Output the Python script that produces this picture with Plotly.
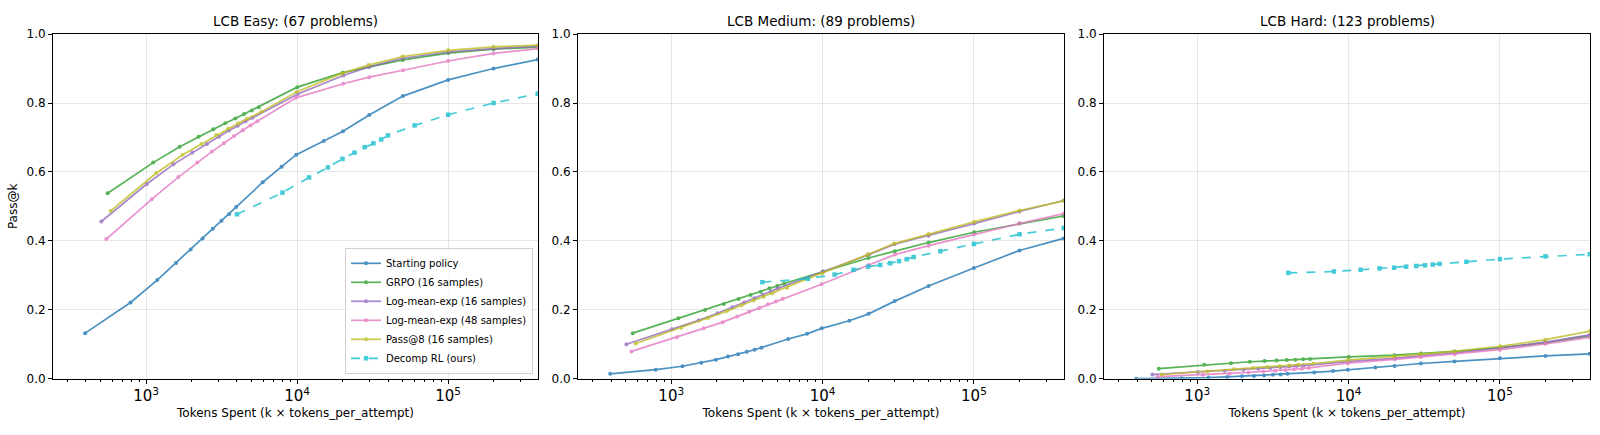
import plotly.graph_objects as go

# ---------------- data ----------------
methods = ["Starting policy", "GRPO (16 samples)", "Log-mean-exp (16 samples)",
           "Log-mean-exp (48 samples)", "Pass@8 (16 samples)", "Decomp RL (ours)"]
colors = ["#1f77b4", "#2ca02c", "#9467bd", "#e377c2", "#bcbd22", "#17becf"]
tokens_per_attempt = [395, 557, 506, 546, 583, 4000]

panel_titles = ["LCB Easy: (67 problems)", "LCB Medium: (89 problems)", "LCB Hard: (123 problems)"]

k_start = [1, 2, 3, 4, 5, 6, 7, 8, 9, 10, 15, 20, 25, 38, 51, 76, 127, 253, 506, 990]
k_grpo = [1, 2, 3, 4, 5, 6, 7, 8, 9, 10, 18, 36, 54, 90, 180, 359, 700]
k_lme16 = [1, 2, 3, 4, 5, 6, 7, 8, 9, 10, 20, 40, 59, 99, 198, 395, 775]
k_lme48 = [1, 2, 3, 4, 5, 6, 7, 8, 9, 10, 18, 37, 55, 92, 183, 366, 720]
k_pass8 = [1, 2, 3, 4, 5, 6, 7, 8, 10, 17, 34, 51, 86, 172, 343, 675]
k_decomp = [1, 2, 3, 4, 5, 6, 7, 8, 9, 10, 15, 25, 50, 98]

# Easy
easy_start = [0.132, 0.221, 0.286, 0.336, 0.375, 0.407, 0.435, 0.458, 0.478, 0.498,
              0.570, 0.615, 0.650, 0.690, 0.718, 0.765, 0.820, 0.867, 0.900, 0.926]
easy_grpo = [0.538, 0.627, 0.673, 0.702, 0.724, 0.741, 0.755, 0.768, 0.778, 0.788,
             0.846, 0.888, 0.905, 0.925, 0.945, 0.956, 0.962]
easy_lme16 = [0.456, 0.565, 0.622, 0.656, 0.681, 0.702, 0.720, 0.734, 0.747, 0.757,
              0.826, 0.880, 0.905, 0.930, 0.948, 0.958, 0.965]
easy_lme48 = [0.405, 0.521, 0.585, 0.627, 0.659, 0.683, 0.704, 0.721, 0.735, 0.747,
              0.815, 0.856, 0.875, 0.895, 0.922, 0.944, 0.958]
easy_pass8 = [0.487, 0.596, 0.650, 0.681, 0.707, 0.726, 0.741, 0.754, 0.775,
              0.832, 0.886, 0.910, 0.935, 0.953, 0.963, 0.968]
easy_decomp = [0.477, 0.540, 0.584, 0.613, 0.638, 0.656, 0.672, 0.683, 0.694, 0.706,
               0.735, 0.766, 0.800, 0.827]

# Medium
med_start = [0.014, 0.026, 0.036, 0.046, 0.055, 0.064, 0.071, 0.078, 0.084, 0.090,
             0.115, 0.130, 0.146, 0.168, 0.188, 0.225, 0.269, 0.321, 0.372, 0.407]
med_grpo = [0.132, 0.175, 0.199, 0.217, 0.231, 0.243, 0.252, 0.262, 0.269, 0.276,
            0.310, 0.350, 0.370, 0.395, 0.425, 0.450, 0.472]
med_lme16 = [0.100, 0.143, 0.169, 0.190, 0.207, 0.221, 0.233, 0.243, 0.253, 0.262,
             0.311, 0.360, 0.390, 0.415, 0.450, 0.485, 0.517]
med_lme48 = [0.079, 0.120, 0.146, 0.164, 0.180, 0.194, 0.205, 0.216, 0.224, 0.232,
             0.274, 0.330, 0.360, 0.386, 0.418, 0.450, 0.479]
med_pass8 = [0.102, 0.148, 0.176, 0.196, 0.213, 0.227, 0.238, 0.248, 0.264,
             0.305, 0.360, 0.392, 0.420, 0.455, 0.488, 0.516]
med_decomp = [0.280, 0.290, 0.302, 0.316, 0.325, 0.330, 0.335, 0.341, 0.347, 0.353,
              0.370, 0.391, 0.419, 0.437]

# Hard
hard_start = [0.000, 0.001, 0.003, 0.005, 0.007, 0.008, 0.009, 0.011, 0.012, 0.014,
              0.018, 0.022, 0.026, 0.032, 0.037, 0.044, 0.050, 0.059, 0.066, 0.072]
hard_grpo = [0.029, 0.040, 0.045, 0.049, 0.051, 0.053, 0.054, 0.055, 0.056, 0.057,
             0.063, 0.068, 0.073, 0.079, 0.090, 0.104, 0.124]
hard_lme16 = [0.012, 0.019, 0.023, 0.026, 0.029, 0.031, 0.033, 0.035, 0.037, 0.038,
              0.050, 0.059, 0.067, 0.075, 0.089, 0.106, 0.127]
hard_lme48 = [0.006, 0.011, 0.015, 0.018, 0.021, 0.023, 0.025, 0.027, 0.029, 0.031,
              0.045, 0.056, 0.063, 0.071, 0.084, 0.101, 0.120]
hard_pass8 = [0.012, 0.021, 0.027, 0.031, 0.034, 0.036, 0.038, 0.040, 0.044,
              0.054, 0.064, 0.071, 0.079, 0.094, 0.113, 0.138]
hard_decomp = [0.307, 0.311, 0.316, 0.320, 0.322, 0.325, 0.327, 0.329, 0.331, 0.333,
               0.339, 0.347, 0.355, 0.361]

k_lists = [k_start, k_grpo, k_lme16, k_lme48, k_pass8, k_decomp]
panels = [
    [easy_start, easy_grpo, easy_lme16, easy_lme48, easy_pass8, easy_decomp],
    [med_start, med_grpo, med_lme16, med_lme48, med_pass8, med_decomp],
    [hard_start, hard_grpo, hard_lme16, hard_lme48, hard_pass8, hard_decomp],
]

# ---------------- figure ----------------
W, H = 1600, 435
FONT = "DejaVu Sans"
x_domains = [(53 / W, 538 / W), (578 / W, 1064 / W), (1104 / W, 1590 / W)]
y_domain = (1 - 384 / H, 1 - 28 / H)
x_range = [2.384, 5.595]

fig = go.Figure()

for p, series in enumerate(panels):
    xa = "x" if p == 0 else f"x{p + 1}"
    ya = "y" if p == 0 else f"y{p + 1}"
    for m, ys in enumerate(series):
        xs = [k * tokens_per_attempt[m] for k in k_lists[m]]
        is_decomp = m == 5
        fig.add_trace(go.Scatter(
            x=xs, y=ys, xaxis=xa, yaxis=ya,
            mode="lines+markers",
            name=methods[m],
            showlegend=(p == 0),
            opacity=0.8,
            line=dict(color=colors[m], width=1.7, dash="dash" if is_decomp else "solid"),
            marker=dict(color=colors[m], size=4 if not is_decomp else 4.5,
                        symbol="square" if is_decomp else "circle"),
        ))

axis_common = dict(
    showline=True, linecolor="black", linewidth=1, mirror=True,
    ticks="outside", ticklen=4, tickcolor="black",
    showgrid=True, gridcolor="rgba(176,176,176,0.3)", gridwidth=1,
    zeroline=False,
    tickfont=dict(family=FONT, size=12, color="black"),
)

layout = dict(
    width=W, height=H,
    margin=dict(l=0, r=0, t=0, b=0),
    paper_bgcolor="white", plot_bgcolor="white",
    font=dict(family=FONT, color="black"),
    legend=dict(
        x=533 / W, y=1 - 379 / H, xanchor="right", yanchor="bottom",
        bgcolor="rgba(255,255,255,0.8)", bordercolor="#d0d0d0", borderwidth=1,
        font=dict(family=FONT, size=10, color="black"),
        tracegroupgap=0, itemwidth=30,
    ),
    annotations=[],
)

for p in range(3):
    xkey = "xaxis" if p == 0 else f"xaxis{p + 1}"
    ykey = "yaxis" if p == 0 else f"yaxis{p + 1}"
    ya = "y" if p == 0 else f"y{p + 1}"
    xa = "x" if p == 0 else f"x{p + 1}"
    layout[xkey] = dict(
        axis_common, type="log", domain=list(x_domains[p]), anchor=ya,
        range=x_range, dtick=1, exponentformat="power", showexponent="all",
        minor=dict(ticks="outside", ticklen=2, tickcolor="black", showgrid=False),
        title=dict(text="Tokens Spent (k × tokens_per_attempt)",
                   font=dict(family=FONT, size=12), standoff=4),
    )
    layout[ykey] = dict(
        axis_common, domain=list(y_domain), anchor=xa,
        range=[0, 1], dtick=0.2, tickformat=".1f",
        title=dict(text="Pass@k" if p == 0 else "", font=dict(family=FONT, size=12), standoff=6),
    )
    layout["annotations"].append(dict(
        text=panel_titles[p], xref="paper", yref="paper",
        x=(x_domains[p][0] + x_domains[p][1]) / 2, y=1 - 14 / H,
        xanchor="center", yanchor="middle", showarrow=False,
        font=dict(family=FONT, size=13.5, color="black"),
    ))

fig.update_layout(**layout)
fig.write_html("out.html")
